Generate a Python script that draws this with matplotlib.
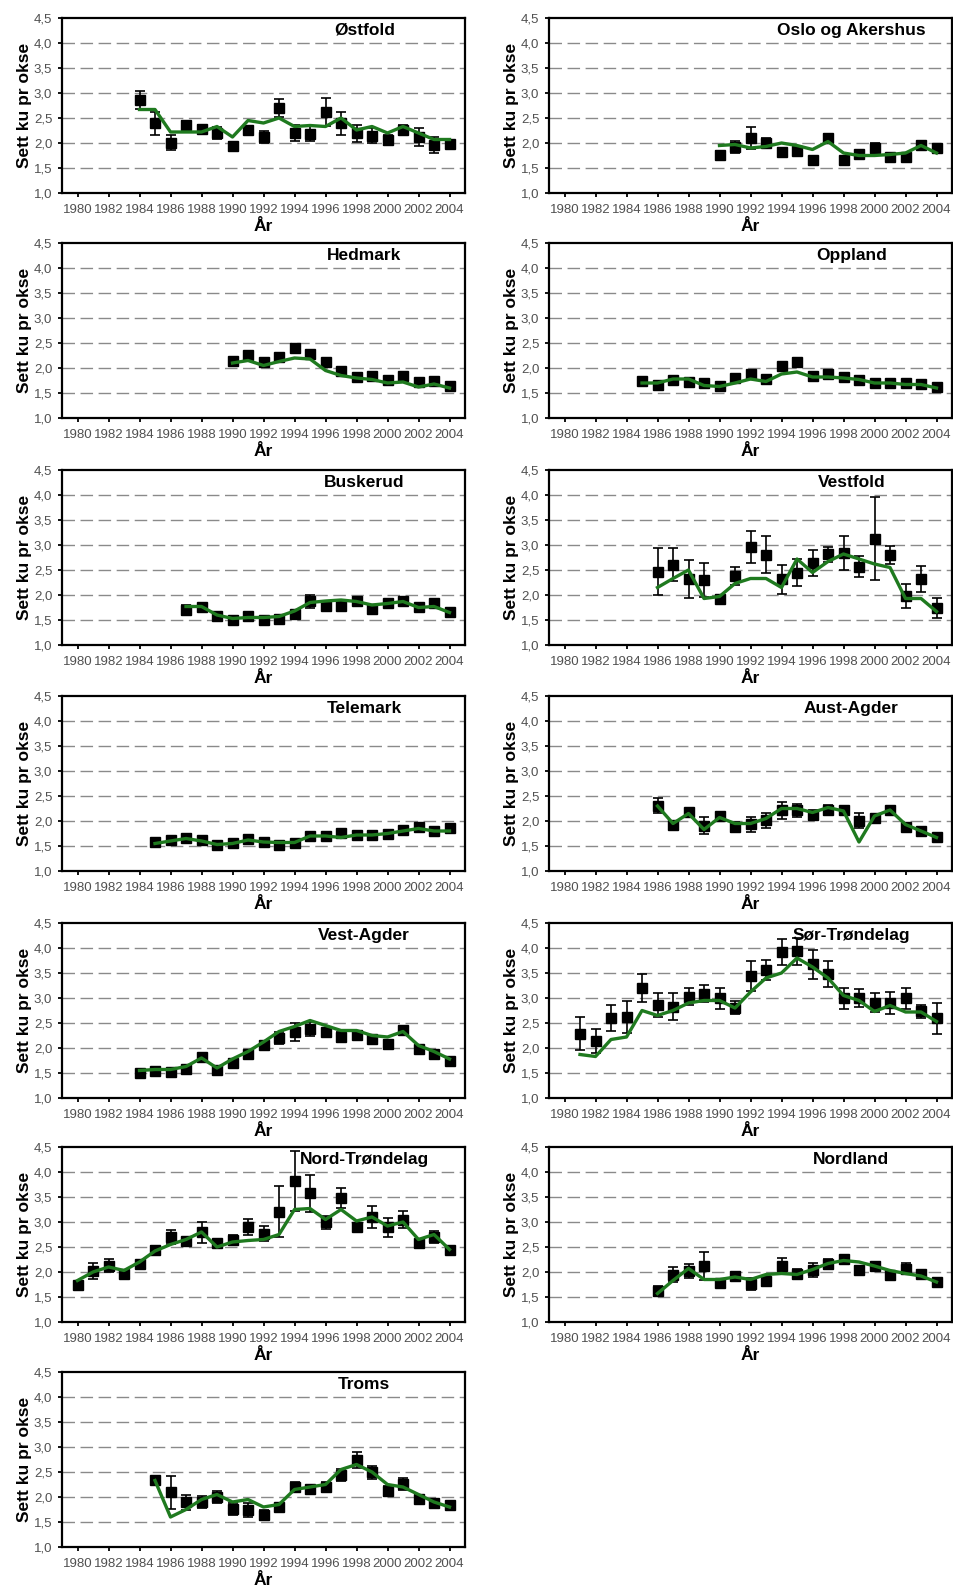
import matplotlib
matplotlib.use("Agg")
import matplotlib.pyplot as plt
from matplotlib.ticker import FuncFormatter

plt.rcParams['font.family'] = ['Liberation Sans', 'DejaVu Sans']

# --- data: observed mean (squares), half error bar, fitted line ---
ostfold_start = 1984
ostfold_obs = [2.87, 2.40, 2.01, 2.37, 2.28, 2.20, 1.95, 2.27, 2.13, 2.70, 2.20,
               2.19, 2.63, 2.40, 2.20, 2.15, 2.07, 2.27, 2.13, 1.97, 1.99]
ostfold_err = [0.18, 0.23, 0.15, 0.07, 0.08, 0.12, 0.07, 0.06, 0.12, 0.18, 0.16,
               0.15, 0.28, 0.23, 0.17, 0.15, 0.10, 0.10, 0.18, 0.16, 0.05]
ostfold_fit = [2.67, 2.67, 2.22, 2.22, 2.22, 2.33, 2.12, 2.45, 2.40, 2.50, 2.33,
               2.35, 2.33, 2.50, 2.26, 2.33, 2.20, 2.33, 2.20, 2.07, 2.07]

oslo_start = 1990
oslo_obs = [1.77, 1.93, 2.10, 2.00, 1.83, 1.85, 1.67, 2.10, 1.67, 1.79, 1.90,
            1.73, 1.73, 1.97, 1.90]
oslo_err = [0.07, 0.12, 0.22, 0.10, 0.07, 0.05, 0.04, 0.08, 0.04, 0.06, 0.10,
            0.04, 0.04, 0.05, 0.08]
oslo_fit = [1.95, 1.97, 1.90, 1.93, 2.00, 1.95, 1.87, 2.03, 1.80, 1.75, 1.75,
            1.77, 1.80, 1.95, 1.80]

hedmark_start = 1990
hedmark_obs = [2.15, 2.26, 2.12, 2.23, 2.40, 2.29, 2.12, 1.95, 1.83, 1.85, 1.76,
               1.85, 1.72, 1.74, 1.64]
hedmark_err = [0.05, 0.05, 0.05, 0.05, 0.08, 0.05, 0.06, 0.05, 0.05, 0.05, 0.05,
               0.05, 0.05, 0.05, 0.05]
hedmark_fit = [2.10, 2.15, 2.05, 2.13, 2.20, 2.18, 1.95, 1.85, 1.80, 1.77, 1.70,
               1.72, 1.62, 1.68, 1.60]

oppland_start = 1985
oppland_obs = [1.75, 1.66, 1.76, 1.73, 1.71, 1.65, 1.80, 1.88, 1.78, 2.04, 2.13,
               1.85, 1.88, 1.82, 1.76, 1.71, 1.71, 1.70, 1.68, 1.62]
oppland_err = [0.04, 0.04, 0.04, 0.04, 0.04, 0.04, 0.04, 0.05, 0.04, 0.07, 0.07,
               0.04, 0.04, 0.04, 0.04, 0.04, 0.04, 0.04, 0.04, 0.04]
oppland_fit = [1.70, 1.70, 1.78, 1.78, 1.65, 1.63, 1.70, 1.78, 1.73, 1.88, 1.92,
               1.82, 1.82, 1.80, 1.77, 1.70, 1.70, 1.67, 1.67, 1.60]

buskerud_start = 1987
buskerud_obs = [1.71, 1.76, 1.58, 1.51, 1.58, 1.51, 1.53, 1.63, 1.88, 1.78, 1.78,
                1.88, 1.73, 1.85, 1.88, 1.76, 1.85, 1.67]
buskerud_err = [0.10, 0.05, 0.05, 0.05, 0.05, 0.05, 0.05, 0.05, 0.13, 0.05, 0.05,
                0.06, 0.05, 0.05, 0.05, 0.05, 0.05, 0.05]
buskerud_fit = [1.77, 1.77, 1.60, 1.53, 1.55, 1.55, 1.57, 1.68, 1.85, 1.88, 1.90,
                1.87, 1.80, 1.83, 1.87, 1.75, 1.77, 1.65]

vestfold_start = 1986
vestfold_obs = [2.47, 2.61, 2.32, 2.31, 1.92, 2.39, 2.97, 2.81, 2.32, 2.45, 2.64,
                2.82, 2.84, 2.57, 3.13, 2.81, 1.99, 2.32, 1.74]
vestfold_err = [0.47, 0.33, 0.38, 0.34, 0.08, 0.18, 0.32, 0.37, 0.29, 0.27, 0.26,
                0.15, 0.34, 0.21, 0.83, 0.18, 0.24, 0.26, 0.20]
vestfold_fit = [2.15, 2.33, 2.50, 1.93, 1.97, 2.23, 2.33, 2.33, 2.15, 2.72, 2.45,
                2.67, 2.82, 2.72, 2.62, 2.55, 1.93, 1.93, 1.67]

telemark_start = 1985
telemark_obs = [1.58, 1.63, 1.67, 1.63, 1.53, 1.56, 1.65, 1.58, 1.53, 1.56, 1.71,
                1.71, 1.76, 1.73, 1.73, 1.75, 1.83, 1.88, 1.80, 1.87]
telemark_err = [0.04] * 20
telemark_fit = [1.55, 1.60, 1.65, 1.60, 1.53, 1.55, 1.62, 1.58, 1.57, 1.57, 1.70,
                1.70, 1.67, 1.72, 1.72, 1.75, 1.80, 1.85, 1.80, 1.80]

austagder_start = 1986
austagder_obs = [2.31, 1.93, 2.18, 1.91, 2.10, 1.88, 1.94, 2.02, 2.22, 2.22, 2.13,
                 2.22, 2.22, 2.01, 2.06, 2.22, 1.89, 1.80, 1.68]
austagder_err = [0.15, 0.05, 0.05, 0.17, 0.05, 0.10, 0.15, 0.15, 0.17, 0.13, 0.09,
                 0.10, 0.05, 0.15, 0.05, 0.04, 0.04, 0.04, 0.04]
austagder_fit = [2.30, 1.95, 2.15, 1.83, 2.07, 1.95, 1.95, 2.05, 2.25, 2.25, 2.17,
                 2.27, 2.20, 1.58, 2.10, 2.22, 1.93, 1.80, 1.67]

vestagder_start = 1984
vestagder_obs = [1.50, 1.54, 1.52, 1.59, 1.82, 1.57, 1.70, 1.89, 2.07, 2.21, 2.33,
                 2.38, 2.32, 2.22, 2.26, 2.19, 2.09, 2.36, 1.99, 1.89, 1.75]
vestagder_err = [0.04, 0.04, 0.04, 0.04, 0.06, 0.04, 0.05, 0.05, 0.08, 0.12, 0.18,
                 0.14, 0.06, 0.10, 0.06, 0.05, 0.05, 0.06, 0.05, 0.04, 0.04]
vestagder_fit = [1.55, 1.57, 1.57, 1.63, 1.80, 1.60, 1.78, 1.93, 2.12, 2.33, 2.43,
                 2.55, 2.45, 2.35, 2.35, 2.25, 2.22, 2.33, 2.05, 1.93, 1.78]

sortrondelag_start = 1981
sortrondelag_obs = [2.29, 2.15, 2.60, 2.63, 3.21, 2.87, 2.83, 3.03, 3.09, 3.00, 2.81,
                    3.45, 3.56, 3.92, 3.94, 3.68, 3.48, 3.00, 3.00, 2.91, 2.91, 3.00,
                    2.74, 2.60]
sortrondelag_err = [0.33, 0.24, 0.26, 0.32, 0.28, 0.24, 0.27, 0.17, 0.17, 0.21, 0.13,
                    0.30, 0.20, 0.26, 0.27, 0.29, 0.26, 0.21, 0.18, 0.19, 0.22, 0.21,
                    0.13, 0.31]
sortrondelag_fit = [1.87, 1.83, 2.17, 2.22, 2.75, 2.65, 2.75, 2.90, 2.95, 2.95, 2.80,
                    3.12, 3.40, 3.50, 3.80, 3.62, 3.40, 3.05, 2.95, 2.73, 2.85, 2.72,
                    2.72, 2.53]

nordtrondelag_start = 1980
nordtrondelag_obs = [1.75, 2.03, 2.13, 1.97, 2.17, 2.45, 2.71, 2.62, 2.80, 2.58, 2.65,
                     2.91, 2.77, 3.21, 3.82, 3.58, 3.00, 3.48, 2.91, 3.11, 2.90, 3.05,
                     2.58, 2.71, 2.45]
nordtrondelag_err = [0.05, 0.16, 0.13, 0.06, 0.05, 0.08, 0.14, 0.06, 0.21, 0.05, 0.10,
                     0.16, 0.15, 0.51, 0.60, 0.37, 0.13, 0.20, 0.08, 0.22, 0.19, 0.17,
                     0.07, 0.12, 0.05]
nordtrondelag_fit = [1.83, 2.00, 2.10, 2.03, 2.20, 2.42, 2.55, 2.65, 2.80, 2.50, 2.60,
                     2.63, 2.65, 2.75, 3.25, 3.27, 3.05, 3.25, 3.02, 3.10, 2.92, 3.00,
                     2.65, 2.75, 2.45]

nordland_start = 1986
nordland_obs = [1.63, 1.95, 2.03, 2.12, 1.78, 1.93, 1.77, 1.82, 2.13, 1.97, 2.05,
                2.17, 2.27, 2.05, 2.13, 1.95, 2.07, 1.97, 1.80]
nordland_err = [0.10, 0.15, 0.14, 0.28, 0.05, 0.06, 0.12, 0.10, 0.15, 0.10, 0.14,
                0.10, 0.06, 0.05, 0.05, 0.05, 0.11, 0.05, 0.05]
nordland_fit = [1.57, 1.83, 2.07, 1.85, 1.85, 1.90, 1.85, 1.95, 1.97, 1.95, 2.05,
                2.17, 2.23, 2.20, 2.12, 2.03, 1.97, 1.92, 1.80]

troms_start = 1985
troms_obs = [2.35, 2.10, 1.90, 1.90, 2.00, 1.77, 1.75, 1.65, 1.80, 2.20, 2.17,
             2.20, 2.45, 2.75, 2.50, 2.12, 2.27, 1.97, 1.88, 1.85]
troms_err = [0.04, 0.33, 0.15, 0.12, 0.12, 0.12, 0.14, 0.10, 0.05, 0.10, 0.06,
             0.10, 0.12, 0.16, 0.13, 0.10, 0.12, 0.08, 0.04, 0.04]
troms_fit = [2.33, 1.60, 1.75, 1.95, 2.05, 1.90, 1.95, 1.80, 1.85, 2.15, 2.20,
             2.25, 2.55, 2.65, 2.50, 2.25, 2.20, 2.05, 1.90, 1.80]

panels = [
    ("Østfold", ostfold_start, ostfold_obs, ostfold_err, ostfold_fit),
    ("Oslo og Akershus", oslo_start, oslo_obs, oslo_err, oslo_fit),
    ("Hedmark", hedmark_start, hedmark_obs, hedmark_err, hedmark_fit),
    ("Oppland", oppland_start, oppland_obs, oppland_err, oppland_fit),
    ("Buskerud", buskerud_start, buskerud_obs, buskerud_err, buskerud_fit),
    ("Vestfold", vestfold_start, vestfold_obs, vestfold_err, vestfold_fit),
    ("Telemark", telemark_start, telemark_obs, telemark_err, telemark_fit),
    ("Aust-Agder", austagder_start, austagder_obs, austagder_err, austagder_fit),
    ("Vest-Agder", vestagder_start, vestagder_obs, vestagder_err, vestagder_fit),
    ("Sør-Trøndelag", sortrondelag_start, sortrondelag_obs, sortrondelag_err, sortrondelag_fit),
    ("Nord-Trøndelag", nordtrondelag_start, nordtrondelag_obs, nordtrondelag_err, nordtrondelag_fit),
    ("Nordland", nordland_start, nordland_obs, nordland_err, nordland_fit),
    ("Troms", troms_start, troms_obs, troms_err, troms_fit),
]

year_ticks = list(range(1980, 2005, 2))
y_ticks = [1.0, 1.5, 2.0, 2.5, 3.0, 3.5, 4.0, 4.5]
grid_levels = [1.5, 2.0, 2.5, 3.0, 3.5, 4.0]

# --- figure layout (pixel based) ---
W, H = 954, 1593
fig = plt.figure(figsize=(W / 100, H / 100), dpi=100)

col_left = [62, 549]
row_top = [18, 243, 470, 696, 923, 1147, 1372]
ax_w, ax_h = 403, 175

green = '#1f7a1f'
comma = FuncFormatter(lambda v, p: ('%.1f' % v).replace('.', ','))

for i, (name, start, obs, err, fit) in enumerate(panels):
    r, c = divmod(i, 2)
    ax = fig.add_axes([col_left[c] / W, 1 - (row_top[r] + ax_h) / H, ax_w / W, ax_h / H])
    years = list(range(start, start + len(obs)))

    for g in grid_levels:
        ax.axhline(g, color='#8a8a8a', lw=1.0, dashes=(9, 4), zorder=0)

    ax.errorbar(years, obs, yerr=err, fmt='s', color='black', ms=7.5,
                ecolor='black', elinewidth=1.2, capsize=3.5, capthick=1.2, zorder=2)
    ax.plot(years, fit, color=green, lw=2.4, zorder=3)

    ax.set_xlim(1979, 2005)
    ax.set_ylim(1.0, 4.5)
    ax.set_xticks(year_ticks)
    ax.set_yticks(y_ticks)
    ax.yaxis.set_major_formatter(comma)
    ax.tick_params(axis='both', direction='out', length=3, width=1.3,
                   labelsize=9.5, labelcolor='#505050', pad=4)
    ax.tick_params(axis='x', pad=5)
    for s in ax.spines.values():
        s.set_linewidth(1.6)
        s.set_color('black')

    ax.set_xlabel('År', fontsize=12.5, fontweight='bold', labelpad=2)
    ax.set_ylabel('Sett ku pr okse', fontsize=12.5, fontweight='bold', labelpad=1)
    ax.text(0.75, 0.93, name, transform=ax.transAxes, ha='center', va='center',
            fontsize=12.5, fontweight='bold', zorder=4)

fig.savefig('out.png', dpi=100)
